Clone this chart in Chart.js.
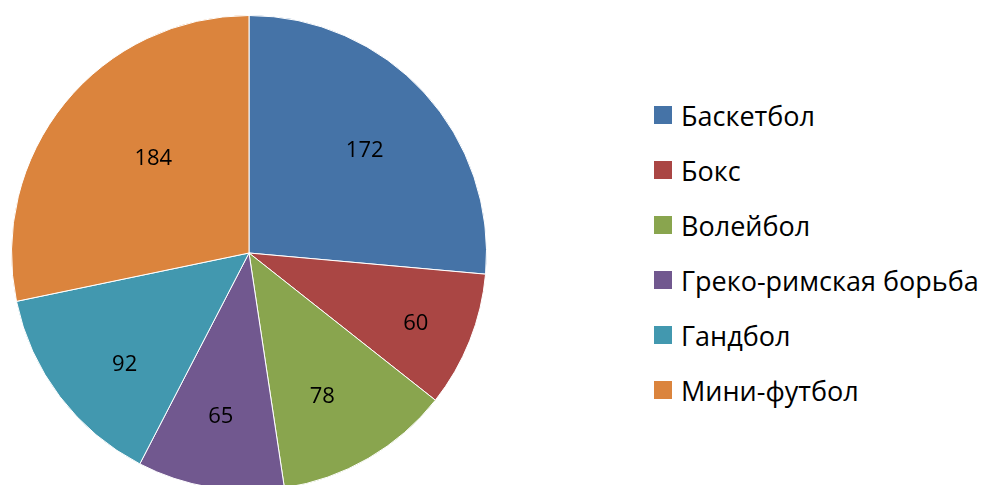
<!DOCTYPE html>
<html>
<head>
<meta charset="utf-8">
<script src="https://cdn.jsdelivr.net/npm/chart.js@4"></script>
<style>
html,body{margin:0;padding:0;width:987px;height:485px;overflow:hidden;background:#fff;}
#wrap{position:absolute;left:11px;top:15px;width:476px;height:476px;}
#legend{position:absolute;left:654px;top:0;font-family:"Open Sans",Lato,sans-serif;font-size:27px;color:#000;}
.item{position:absolute;left:0;height:30px;white-space:nowrap;display:flex;align-items:center;}
.sw{width:18px;height:18px;margin-right:9px;flex:none;}
</style>
</head>
<body>
<div id="wrap"><canvas id="c"></canvas></div>
<div id="legend"></div>
<script>
const categories = ["Баскетбол","Бокс","Волейбол","Греко-римская борьба","Гандбол","Мини-футбол"];
const values = [172, 60, 78, 65, 92, 184];
const colors = ["#4573A7","#AA4644","#89A54E","#71588F","#4298AF","#DB843D"];
// label placement (style): radial factor and angular shift (degrees) from slice mid-angle
const labelRadius = [0.653, 0.761, 0.674, 0.696, 0.700, 0.568];
const labelShift = [0.7, 0.9, 2.9, 0.4, -4.4, 5.7];

const labelPlugin = {
  id: 'sliceLabels',
  afterDatasetsDraw(chart) {
    const ctx = chart.ctx;
    const meta = chart.getDatasetMeta(0);
    ctx.save();
    ctx.font = '22px "Open Sans", Lato, sans-serif';
    ctx.fillStyle = '#000';
    ctx.textAlign = 'center';
    ctx.textBaseline = 'middle';
    meta.data.forEach((arc, i) => {
      const p = arc.getProps(['x','y','startAngle','endAngle','outerRadius'], true);
      const mid = (p.startAngle + p.endAngle) / 2 + labelShift[i] * Math.PI / 180;
      const r = p.outerRadius * labelRadius[i];
      ctx.fillText(String(values[i]), p.x + Math.cos(mid) * r, p.y + Math.sin(mid) * r + 1);
    });
    ctx.restore();
  }
};

new Chart(document.getElementById('c'), {
  type: 'pie',
  data: {
    labels: categories,
    datasets: [{ data: values, backgroundColor: colors, borderColor: '#ffffff', borderWidth: 1 }]
  },
  options: {
    responsive: true,
    maintainAspectRatio: false,
    animation: false,
    layout: { padding: 0 },
    plugins: { legend: { display: false }, tooltip: { enabled: false } }
  },
  plugins: [labelPlugin]
});

const legend = document.getElementById('legend');
categories.forEach((c, i) => {
  const d = document.createElement('div');
  d.className = 'item';
  d.style.top = (100 + i * 55) + 'px';
  const s = document.createElement('span');
  s.className = 'sw';
  s.style.background = colors[i];
  const t = document.createElement('span');
  t.textContent = c;
  d.appendChild(s); d.appendChild(t);
  legend.appendChild(d);
});
</script>
</body>
</html>
